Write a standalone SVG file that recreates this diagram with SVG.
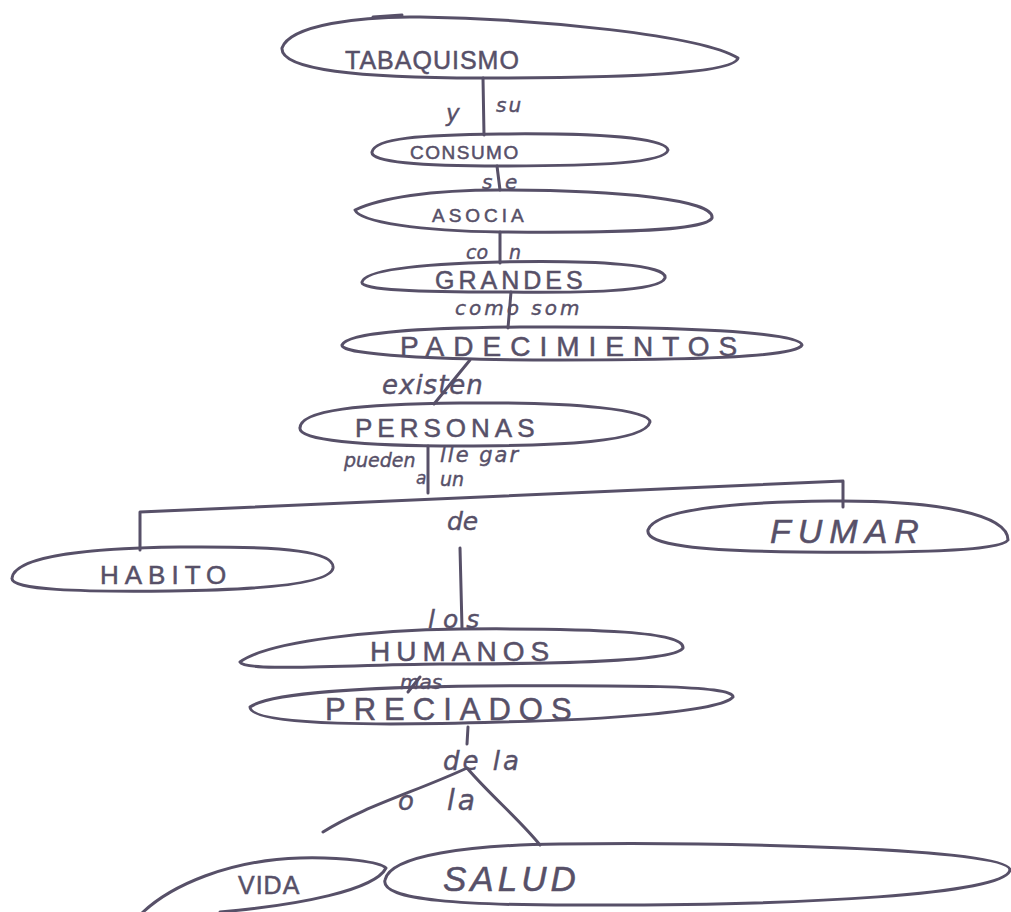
<svg xmlns="http://www.w3.org/2000/svg" width="1011" height="912" viewBox="0 0 1011 912">
  <style>
    .node { fill: none; stroke: #575068; stroke-width: 3; stroke-linejoin: round; stroke-linecap: round; }
    .link { fill: none; stroke: #575068; stroke-width: 3; stroke-linecap: round; stroke-linejoin: round; }
    .cap { font-family: "Liberation Sans", "DejaVu Sans", sans-serif; fill: #575068; stroke: #575068; stroke-width: 0.5; }
    .lab { font-family: "DejaVu Sans", "Liberation Sans", sans-serif; fill: #575068; stroke: #575068; stroke-width: 0.4; font-style: italic; }
  </style>
  <rect width="1011" height="912" fill="#ffffff"/>

  <!-- connectors -->
  <g id="connectors">
    <path class="link" d="M483,78 L484,135"/>
    <path class="link" d="M497,166 L500,190"/>
    <path class="link" d="M500,232 L500,263"/>
    <path class="link" d="M511,292 L508,328"/>
    <path class="link" d="M470,360 L434,404"/>
    <path class="link" d="M428,446 L428,493"/>
    <path class="link" d="M140,550 L140,512 L843,481 L843,507"/>
    <path class="link" d="M460,548 L462,628"/>
    <path class="link" d="M408,692 L420,677"/>
    <path class="link" d="M468,727 L467,744"/>
    <path class="link" d="M323,832 C360,808 420,790 467,768 C490,795 520,820 540,845"/>
  </g>

  <!-- concepts -->
  <g id="n-tabaquismo">
    <path class="node" d="M282,48 C290,25 360,16 420,17 C540,19 700,35 738,58 C735,72 650,78 480,78 C360,78 280,70 282,48 Z"/>
    <path class="link" d="M373,17 L402,15"/>
    <text class="cap" x="345" y="69" font-size="25" letter-spacing="1">TABAQUISMO</text>
  </g>
  <g id="n-consumo">
    <path class="node" d="M372,152 C375,138 420,135 500,134 C600,133 665,138 668,150 C665,163 600,166 500,166 C420,166 370,162 372,152 Z"/>
    <text class="cap" x="410" y="159" font-size="19" letter-spacing="1.5">CONSUMO</text>
  </g>
  <g id="n-asocia">
    <path class="node" d="M355,210 C380,198 430,190 500,190 C620,190 715,200 712,218 C705,232 600,233 500,232 C420,231 360,222 355,210 Z"/>
    <text class="cap" x="432" y="222" font-size="19" letter-spacing="4">ASOCIA</text>
  </g>
  <g id="n-grandes">
    <path class="node" d="M362,282 C365,270 420,264 500,262 C600,260 668,265 665,278 C660,292 580,293 500,292 C420,292 360,290 362,282 Z"/>
    <text class="cap" x="435" y="289" font-size="25" letter-spacing="4">GRANDES</text>
  </g>
  <g id="n-padecimientos">
    <path class="node" d="M342,345 C348,332 420,328 520,327 C680,326 800,332 802,345 C796,358 680,360 560,360 C440,360 340,355 342,345 Z"/>
    <text class="cap" x="400" y="356" font-size="28" letter-spacing="9">PADECIMIENTOS</text>
  </g>
  <g id="n-personas">
    <path class="node" d="M300,428 C300,410 360,404 460,403 C580,402 650,410 650,422 C645,442 560,446 460,446 C360,446 298,440 300,428 Z"/>
    <text class="cap" x="355" y="437" font-size="26" letter-spacing="5">PERSONAS</text>
  </g>
  <g id="n-habito">
    <path class="node" d="M12,578 C15,556 90,548 180,547 C290,546 335,552 333,568 C330,585 250,590 170,591 C80,592 10,590 12,578 Z"/>
    <text class="cap" x="100" y="584" font-size="26" letter-spacing="6">HABITO</text>
  </g>
  <g id="n-fumar">
    <path class="node" d="M648,530 C655,510 730,502 830,501 C940,500 1008,515 1008,540 C1000,552 900,553 800,552 C700,551 645,545 648,530 Z"/>
    <text class="cap" x="770" y="543" font-size="34" font-style="italic" letter-spacing="7">FUMAR</text>
  </g>
  <g id="n-humanos">
    <path class="node" d="M240,662 C270,640 380,630 460,629 C600,628 685,632 683,648 C675,662 550,664 440,664 C340,665 245,672 240,662 Z"/>
    <text class="cap" x="370" y="661" font-size="28" letter-spacing="6">HUMANOS</text>
  </g>
  <g id="n-preciados">
    <path class="node" d="M250,707 C270,692 380,687 480,686 C620,685 735,685 733,697 C720,712 600,720 500,722 C400,725 250,727 250,707 Z"/>
    <text class="cap" x="325" y="720" font-size="31" letter-spacing="8">PRECIADOS</text>
  </g>
  <g id="n-vida">
    <path class="node" d="M140,915 C170,885 230,860 300,858 C345,857 380,862 386,868 C375,890 300,905 220,912"/>
    <text class="cap" x="238" y="894" font-size="25" letter-spacing="1">VIDA</text>
  </g>
  <g id="n-salud">
    <path class="node" d="M385,880 C390,855 470,845 560,844 C720,842 1010,848 1010,870 C1005,895 800,905 600,905 C460,906 380,900 385,880 Z"/>
    <text class="cap" x="443" y="891" font-size="35" font-style="italic" letter-spacing="4">SALUD</text>
  </g>

  <!-- linking words -->
  <g id="labels">
    <text class="lab" x="446" y="121" font-size="23">y</text>
    <text class="lab" x="496" y="112" font-size="20" letter-spacing="2">su</text>
    <text class="lab" x="482" y="189" font-size="20">s</text>
    <text class="lab" x="505" y="189" font-size="20">e</text>
    <text class="lab" x="466" y="259" font-size="19">co</text>
    <text class="lab" x="509" y="259" font-size="19">n</text>
    <text class="lab" x="455" y="315" font-size="20" letter-spacing="3">como som</text>
    <text class="lab" x="382" y="394" font-size="26" letter-spacing="1">existen</text>
    <text class="lab" x="344" y="467" font-size="19">pueden</text>
    <text class="lab" x="440" y="462" font-size="21" letter-spacing="2">lle gar</text>
    <text class="lab" x="416" y="484" font-size="17">a</text>
    <text class="lab" x="440" y="486" font-size="19">un</text>
    <text class="lab" x="447" y="530" font-size="25">de</text>
    <text class="lab" x="428" y="628" font-size="25" letter-spacing="8">los</text>
    <text class="lab" x="400" y="689" font-size="20">mas</text>
    <text class="lab" x="443" y="770" font-size="26" letter-spacing="3">de la</text>
    <text class="lab" x="398" y="810" font-size="26">o</text>
    <text class="lab" x="447" y="810" font-size="28" letter-spacing="3">la</text>
  </g>
</svg>
